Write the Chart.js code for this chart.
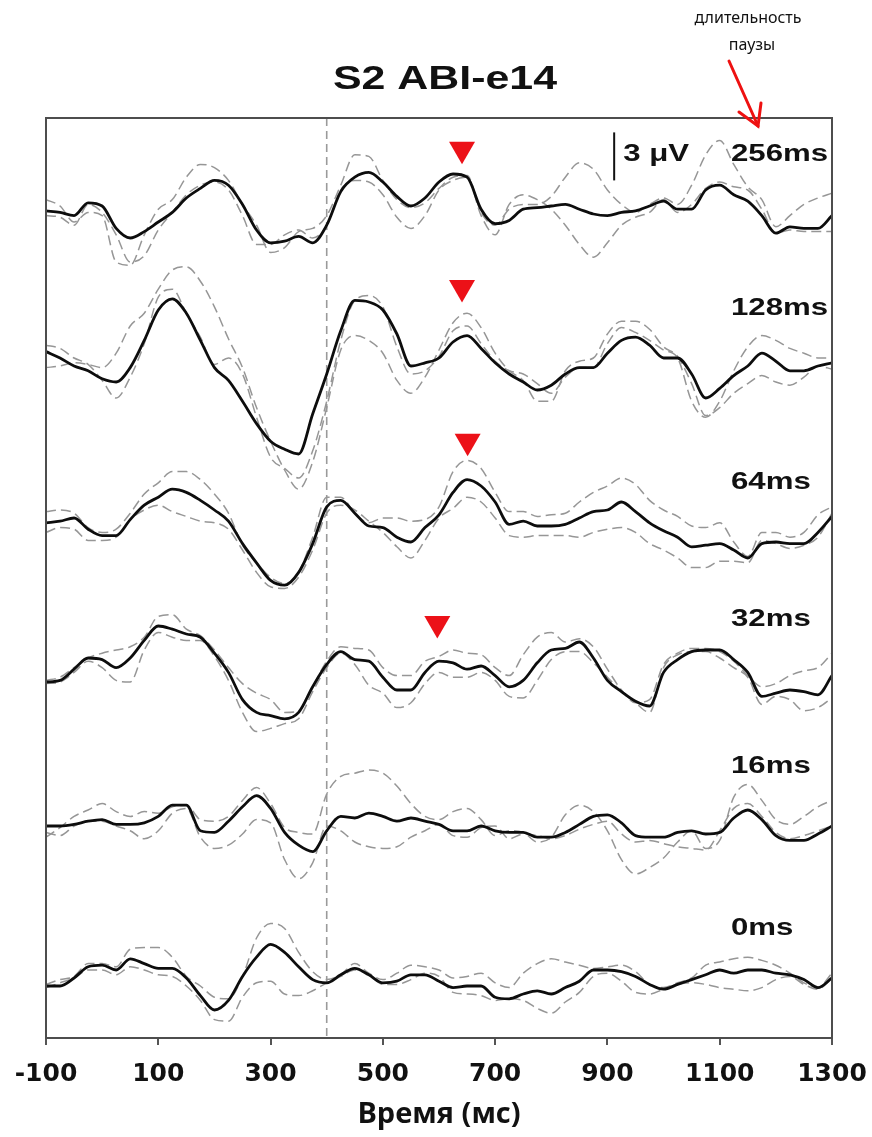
<!DOCTYPE html>
<html>
<head>
<meta charset="utf-8">
<title>S2 ABI-e14</title>
<script src="https://cdn.jsdelivr.net/npm/chart.js@4.4.1/dist/chart.umd.min.js"></script>
<style>
  html, body { margin: 0; padding: 0; background: #fff; }
  #wrap { width: 872px; height: 1137px; position: relative; }
</style>
</head>
<body>
<div id="wrap"><canvas id="erp"></canvas></div>
<script>
// sample times (ms) shared by all traces
const TIMES = [-100,-75,-50,-25,0,25,50,75,100,125,150,175,200,225,250,275,300,325,350,375,
  400,425,450,475,500,525,550,575,600,625,650,675,700,725,750,775,800,825,850,875,
  900,925,950,975,1000,1025,1050,1075,1100,1125,1150,1175,1200,1225,1250,1275,1300];
const TICK_MS = [-100, 100, 300, 500, 700, 900, 1100, 1300];
const ONSET_MS = 400;

// pause durations, top to bottom, and the baseline of each trace (uV)
const PAUSES = ['256ms', '128ms', '64ms', '32ms', '16ms', '0ms'];
const OFFSETS = [51.7, 42.9, 32.2, 22.25, 13.25, 3.25];

// amplitudes (uV) relative to baseline: grand mean + two runs (dashed)
const avg256 = [0.0,-0.1,-0.3,0.5,0.3,-1.1,-1.7,-1.3,-0.7,-0.1, 0.8,1.4,1.9,1.6,0.4,-1.2,-2.0,-1.9,-1.6,-2.0,
  -0.9,1.2,2.1,2.4,1.8,0.9,0.3,0.8,1.8,2.3, 2.1,0.1,-0.8,-0.6,0.1,0.2,0.3,0.4,0.1,-0.2,
  -0.3,-0.1,0.0,0.3,0.6,0.1,0.1,1.3,1.6,1.0, 0.6,-0.3,-1.4,-1.0,-1.1,-1.1,-0.3];
const runA256 = [0.7,0.3,-0.7,-0.1,-0.3,-3.2,-3.4,-1.5,0.1,0.7, 2.1,2.9,2.7,1.9,0.4,-0.9,-2.6,-2.3,-1.3,-1.1,
  -0.3,1.6,3.5,3.4,1.9,0.7,0.2,0.5,1.4,2.1, 2.2,-0.1,-0.9,0.1,0.4,0.4,0.9,2.1,3.0,2.6,
  1.3,0.4,-0.1,0.4,0.8,0.4,1.6,3.5,4.4,2.9, 1.5,0.7,-1.0,-0.3,0.4,0.8,1.1];
const runB256 = [-0.3,-0.4,-0.9,0.4,-0.1,-1.5,-3.2,-2.8,-1.2,-0.1, 1.0,1.6,1.8,1.3,-0.3,-2.1,-2.1,-1.5,-1.2,-1.7,
  -0.9,1.3,1.9,1.8,1.0,-0.4,-1.1,-0.3,1.3,1.9, 2.1,-0.3,-1.5,0.4,1.0,0.7,0.1,-0.9,-2.1,-2.9,
  -2.0,-0.9,-0.4,-0.1,0.7,-0.1,0.4,1.4,1.8,1.5, 1.3,0.1,-1.4,-1.2,-1.3,-1.3,-1.3];

const avg128 = [0.0,-0.4,-0.9,-1.2,-1.7,-1.9,-1.0,0.7,2.6,3.3, 2.4,0.7,-1.0,-1.8,-3.1,-4.5,-5.6,-6.1,-6.4,-3.9,
  -1.4,1.3,3.2,3.1,2.6,1.1,-0.9,-0.7,-0.4,0.6, 1.0,0.2,-0.7,-1.4,-1.9,-2.4,-2.1,-1.4,-1.0,-1.0,
  -0.1,0.7,0.9,0.4,-0.4,-0.4,-1.4,-2.9,-2.3,-1.5, -0.9,-0.1,-0.6,-1.2,-1.2,-0.9,-0.7];
const runA128 = [-1.0,-0.9,-0.7,-0.8,-1.0,-0.1,1.6,2.4,3.9,5.1, 5.3,4.4,2.8,0.8,-1.0,-3.5,-5.6,-7.4,-8.6,-6.9,
  -3.5,0.1,1.0,0.7,-0.1,-1.8,-2.6,-1.6,0.1,1.8, 2.4,1.5,-0.1,-1.2,-1.8,-3.1,-3.1,-1.2,-0.6,-0.4,
  1.1,1.9,1.9,1.4,0.3,-0.3,-2.0,-4.0,-3.5,-2.6, -2.0,-1.5,-1.9,-2.1,-1.6,-0.9,-1.1];
const runB128 = [0.4,0.2,-0.4,-0.8,-1.8,-2.9,-1.6,0.5,3.4,3.9, 2.4,0.9,-0.8,-0.4,-1.4,-4.1,-6.6,-7.3,-7.9,-6.2,
  -3.1,0.7,3.2,3.5,2.8,0.3,-1.4,-1.2,-0.3,1.3, 1.6,0.5,-0.6,-1.2,-1.4,-2.0,-2.6,-1.6,-1.0,-1.0,
  0.5,1.5,1.2,0.7,0.1,-0.4,-3.1,-4.1,-3.1,-1.2, 0.3,1.0,0.7,0.2,-0.1,-0.4,-0.4];

const avg64 = [0.0,0.1,0.3,-0.4,-0.8,-0.8,0.2,1.1,1.6,2.1, 1.9,1.4,0.8,0.1,-1.3,-2.5,-3.6,-3.9,-3.1,-1.3,
  1.0,1.4,0.6,-0.2,-0.3,-0.9,-1.2,-0.3,0.5,1.9, 2.7,2.3,1.3,-0.1,0.1,-0.2,-0.2,-0.1,0.3,0.7,
  0.8,1.3,0.7,0.0,-0.5,-0.9,-1.5,-1.4,-1.3,-1.7, -2.2,-1.3,-1.2,-1.3,-1.3,-0.6,0.4];
const runA64 = [0.7,0.8,0.6,-0.3,-0.6,-0.4,0.6,1.8,2.5,3.2, 3.2,2.7,1.8,0.6,-1.4,-2.5,-3.4,-3.8,-3.1,-0.9,
  1.6,1.6,0.6,0.0,0.3,0.3,0.1,0.2,1.0,3.2, 3.9,3.4,1.9,0.7,0.7,0.4,0.5,0.6,1.3,1.9,
  2.3,2.8,2.4,1.4,0.8,0.4,-0.2,-0.3,0.0,-1.2, -2.1,-0.6,-0.6,-0.9,-0.6,0.5,1.0];
const runB64 = [-0.6,-0.3,-0.4,-1.1,-1.1,-0.9,0.2,0.8,1.1,0.7, 0.4,0.1,0.0,-0.4,-1.7,-3.1,-4.0,-4.1,-3.4,-1.7,
  0.6,1.1,0.8,0.1,-0.6,-1.5,-2.2,-1.1,0.3,0.9, 1.6,1.3,0.3,-0.8,-0.9,-0.8,-0.8,-0.8,-0.9,-0.6,
  -0.4,-0.3,-0.6,-1.3,-1.7,-2.2,-2.8,-2.8,-2.4,-2.4, -2.5,-1.1,-1.3,-1.6,-1.4,-0.9,0.6];

const avg32 = [0.0,0.1,0.8,1.5,1.4,0.9,1.5,2.6,3.5,3.3, 3.0,2.8,1.8,0.6,-1.1,-1.9,-2.1,-2.3,-1.9,-0.3,
  1.1,1.9,1.4,1.3,0.3,-0.5,-0.5,0.6,1.3,1.2, 0.8,1.0,0.4,-0.3,0.1,1.2,2.0,2.1,2.5,1.5,
  0.1,-0.6,-1.2,-1.5,0.6,1.4,1.9,2.0,2.0,1.4, 0.6,-0.9,-0.7,-0.5,-0.6,-0.8,0.4];
const runA32 = [0.1,0.3,0.9,1.5,1.8,2.0,2.2,2.8,4.1,4.2, 3.3,2.9,2.0,0.9,-0.1,-0.7,-1.1,-1.9,-1.8,-0.3,
  1.3,2.2,2.1,2.0,0.9,0.4,0.4,1.3,1.6,2.0, 1.8,1.7,0.9,0.4,1.7,2.8,3.1,2.5,2.7,2.2,
  0.8,-0.5,-1.3,-1.1,1.1,1.8,2.1,2.1,1.9,1.3, 0.4,-0.3,-0.1,0.4,0.7,0.9,1.8];
const runB32 = [-0.1,0.0,0.6,1.3,0.9,0.1,0.0,2.0,3.1,2.8, 2.6,2.6,1.6,0.1,-1.9,-3.1,-2.9,-2.6,-2.3,-0.6,
  0.9,1.8,1.1,-0.2,-0.7,-1.6,-1.3,-0.1,0.6,0.3, 0.3,0.6,0.1,-0.9,-1.0,0.1,1.4,1.9,1.9,1.2,
  0.3,-0.6,-1.3,-1.9,0.9,1.7,1.9,1.9,1.5,0.9, 0.3,-1.4,-0.9,-1.1,-1.8,-1.6,-1.0];

const avg16 = [0.0,0.0,0.1,0.3,0.4,0.1,0.1,0.2,0.6,1.3, 1.3,-0.3,-0.4,0.3,1.2,1.9,1.1,-0.4,-1.2,-1.6,
  -0.3,0.6,0.5,0.8,0.6,0.3,0.5,0.3,0.1,-0.3, -0.3,0.0,-0.3,-0.4,-0.4,-0.7,-0.7,-0.4,0.1,0.6,
  0.7,0.2,-0.6,-0.7,-0.7,-0.4,-0.3,-0.5,-0.4,0.5, 1.0,0.4,-0.6,-0.9,-0.9,-0.5,0.0];
const runA16 = [-0.7,-0.1,0.6,1.0,1.4,0.9,0.6,0.9,0.8,1.2, 1.3,0.4,0.3,0.6,1.6,2.4,1.4,-0.1,-0.4,-0.5,
  2.0,3.1,3.3,3.5,3.3,2.5,1.4,0.6,0.4,0.9, 1.1,0.4,-0.6,-0.3,-0.4,-1.0,-0.7,0.7,1.3,0.9,
  -0.3,-2.1,-3.0,-2.6,-2.0,-1.0,-0.3,-1.4,-0.9,1.8, 2.6,1.6,0.4,0.1,0.6,1.2,1.6];
const runB16 = [-0.4,-0.6,0.0,0.3,0.3,0.0,-0.3,-0.8,-0.3,0.8, 1.1,-0.7,-1.4,-1.2,-0.5,0.4,0.2,-2.1,-3.3,-2.3,
  0.0,-0.3,-1.0,-1.3,-1.4,-1.3,-0.7,-0.3,0.1,-0.6, -0.7,-0.1,0.0,-0.8,-0.5,-0.6,-0.8,-0.6,-0.2,0.1,
  0.3,-0.5,-1.0,-0.9,-1.1,-1.3,-1.4,-1.5,-0.3,1.1, 1.4,0.6,-0.4,-0.8,-0.6,-0.3,0.0];

const avg0 = [0.0,0.0,0.5,1.2,1.3,1.0,1.7,1.4,1.1,1.1, 0.5,-0.6,-1.5,-0.9,0.6,1.8,2.6,2.1,1.2,0.4,
  0.2,0.7,1.1,0.7,0.2,0.3,0.7,0.7,0.3,-0.1, 0.0,0.0,-0.7,-0.8,-0.5,-0.3,-0.5,-0.1,0.3,1.0,
  1.0,0.9,0.6,0.1,-0.2,0.1,0.4,0.7,1.0,0.8, 1.0,1.0,0.8,0.7,0.4,-0.1,0.5];
const runA0 = [0.1,0.4,0.6,1.4,1.4,1.2,2.3,2.4,2.4,1.8, 0.6,0.0,-0.7,-0.8,0.6,3.0,3.9,3.6,2.1,0.9,
  0.4,0.7,1.4,0.8,0.4,0.8,1.3,1.2,1.0,0.5, 0.6,0.8,0.2,-0.1,0.8,1.4,1.7,1.5,1.3,1.1,
  1.2,1.3,0.9,0.1,-0.1,0.2,0.5,1.3,1.5,1.7, 1.8,1.6,1.3,0.8,0.2,-0.1,0.8];
const runB0 = [-0.1,0.2,0.5,1.0,1.0,0.7,1.2,1.0,0.7,0.6, 0.0,-0.9,-2.1,-2.2,-0.7,0.2,0.3,-0.5,-0.6,-0.3,
  0.2,0.6,1.0,0.7,0.1,0.1,0.4,0.8,0.6,-0.4, -0.5,-0.6,-0.9,-0.8,-0.9,-1.4,-1.7,-1.0,-0.4,0.6,
  0.8,0.3,-0.4,-0.5,-0.2,0.1,0.2,0.1,-0.1,-0.2, -0.3,-0.1,0.4,0.6,0.1,-0.2,0.5];

// red markers: latency (ms) and height (uV) of each arrowhead
const MARK_MS = [641, 641, 651, 597];
const MARK_UV = [55.55, 46.9, 37.3, 25.9];

const AVERAGES = [avg256, avg128, avg64, avg32, avg16, avg0];
const RUNS_A = [runA256, runA128, runA64, runA32, runA16, runA0];
const RUNS_B = [runB256, runB128, runB64, runB32, runB16, runB0];

function toPoints(vals, base) {
  return vals.map((v, i) => ({ x: TIMES[i], y: base + v }));
}

const datasets = [];
datasets.push({
  label: 'peak', data: MARK_MS.map((t, i) => ({ x: t, y: MARK_UV[i] })),
  showLine: false, pointStyle: 'triangle', pointRotation: 180, pointRadius: 15, pointHoverRadius: 15,
  pointBackgroundColor: '#ec1118', pointBorderWidth: 0, order: 0
});
PAUSES.forEach((p, k) => {
  datasets.push({ label: p, data: toPoints(AVERAGES[k], OFFSETS[k]), borderColor: '#0d0d0d',
    borderWidth: 2.8, cubicInterpolationMode: 'monotone', pointRadius: 0, order: 1 });
  [RUNS_A[k], RUNS_B[k]].forEach((r, j) => {
    datasets.push({ label: p + ' run ' + (j + 1), data: toPoints(r, OFFSETS[k]), borderColor: '#969696',
      borderWidth: 1.5, borderDash: [10, 5], cubicInterpolationMode: 'monotone', pointRadius: 0, order: 2 });
  });
});

// lift (uV) of each pause label above its trace baseline
const LABEL_LIFT = [3.5, 2.7, 2.5, 3.9, 3.7, 3.6];

function wideText(ctx, txt, x, y, size, align, weight) {
  ctx.save();
  ctx.translate(x, y);
  ctx.scale(1.3, 1);
  ctx.font = (weight || 'bold') + ' ' + size + 'px "Liberation Sans", Arial, sans-serif';
  ctx.textAlign = align;
  ctx.textBaseline = 'middle';
  ctx.fillStyle = '#111';
  ctx.fillText(txt, 0, 0);
  ctx.restore();
}

const decor = {
  id: 'decor',
  beforeDatasetsDraw(chart) {
    const { ctx, chartArea: a, scales: { x } } = chart;
    const px = x.getPixelForValue(ONSET_MS);
    ctx.save();
    ctx.strokeStyle = '#9a9a9a';
    ctx.lineWidth = 1.6;
    ctx.setLineDash([8, 5]);
    ctx.beginPath(); ctx.moveTo(px, a.top); ctx.lineTo(px, a.bottom); ctx.stroke();
    ctx.restore();
  },
  afterDraw(chart) {
    const { ctx, chartArea: a, scales: { x, y } } = chart;
    ctx.save();
    ctx.strokeStyle = '#4d4d4d';
    ctx.lineWidth = 2;
    ctx.strokeRect(a.left, a.top, a.right - a.left, a.bottom - a.top);

    // pause labels
    PAUSES.forEach((p, k) => {
      wideText(ctx, p, x.getPixelForValue(1120), y.getPixelForValue(OFFSETS[k] + LABEL_LIFT[k]), 24, 'left');
    });

    // 3 uV scale bar
    const bx = x.getPixelForValue(912);
    ctx.strokeStyle = '#111'; ctx.lineWidth = 2;
    ctx.beginPath(); ctx.moveTo(bx, y.getPixelForValue(56.6)); ctx.lineTo(bx, y.getPixelForValue(53.6)); ctx.stroke();
    wideText(ctx, '3 \u03BCV', bx + 9, y.getPixelForValue(55.2), 24, 'left');

    // title
    wideText(ctx, 'S2 ABI-e14', 445, 80, 33, 'center');

    // annotation + arrow
    ctx.fillStyle = '#111';
    ctx.font = '16px "Noto Sans", "Open Sans", sans-serif';
    ctx.textAlign = 'center'; ctx.textBaseline = 'middle';
    ctx.fillText('длительность', 748, 18);
    ctx.fillText('паузы', 752, 45);
    ctx.strokeStyle = '#ee1111'; ctx.lineWidth = 3; ctx.lineCap = 'round';
    ctx.beginPath(); ctx.moveTo(729, 61); ctx.lineTo(758, 126); ctx.stroke();
    ctx.beginPath(); ctx.moveTo(739, 112); ctx.lineTo(758, 126); ctx.lineTo(761, 103); ctx.stroke();
    ctx.restore();
  }
};

new Chart(document.getElementById('erp'), {
  type: 'line',
  data: { datasets },
  options: {
    responsive: true,
    maintainAspectRatio: false,
    animation: false,
    layout: { padding: { top: 118, left: 46, right: 40, bottom: 0 } },
    plugins: { legend: { display: false }, tooltip: { enabled: false } },
    scales: {
      x: {
        type: 'linear', min: -100, max: 1300,
        afterBuildTicks: s => { s.ticks = TICK_MS.map(v => ({ value: v })); },
        afterFit: s => { s.height = 99; s.paddingLeft = 0; s.paddingRight = 0; },
        ticks: { color: '#111', padding: 14, maxRotation: 0, autoSkip: false,
          callback: v => String(v),
          font: { family: '"DejaVu Sans"', weight: 'bold', size: 25 } },
        grid: { drawOnChartArea: false, drawTicks: true, tickLength: 7, color: '#555', lineWidth: 2 },
        border: { display: false },
        title: { display: true, text: 'Время (мс)', color: '#111',
          font: { family: '"Open Sans"', weight: 'bold', size: 29 }, padding: { top: 0, bottom: 5 } }
      },
      y: { display: false, min: 0, max: 57.5 }
    }
  },
  plugins: [decor]
});
</script>
</body>
</html>
